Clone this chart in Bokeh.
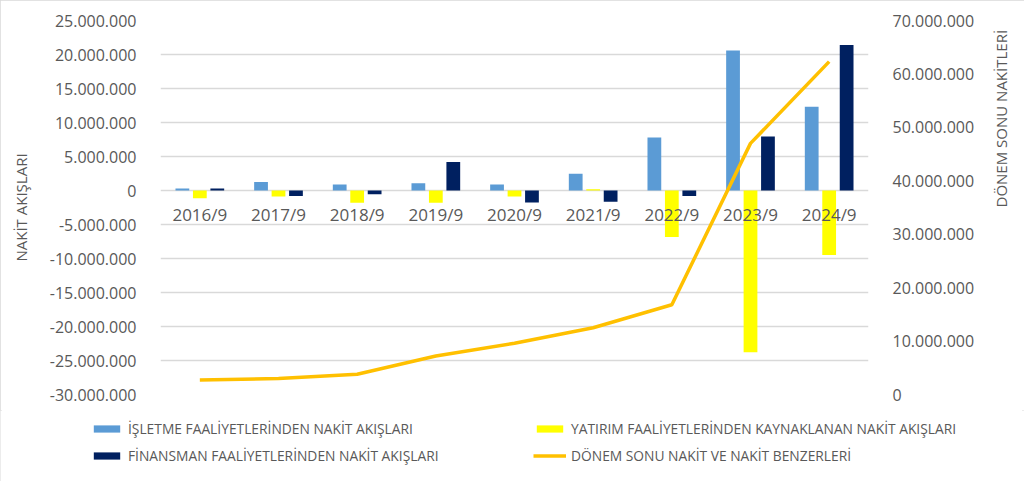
import math
from bokeh.plotting import figure
from bokeh.layouts import column
from bokeh.models import (Range1d, LinearAxis, FixedTicker, CustomJSTickFormatter,
                          ColumnDataSource, Legend, LegendItem)
from bokeh.transform import dodge
from bokeh.core.properties import value
from bokeh.embed import file_html
from bokeh.resources import INLINE

# data
periods = ["2016/9", "2017/9", "2018/9", "2019/9", "2020/9",
           "2021/9", "2022/9", "2023/9", "2024/9"]
isletme = [0.3e6, 1.25e6, 0.9e6, 1.05e6, 0.9e6, 2.45e6, 7.8e6, 20.6e6, 12.3e6]
yatirim = [-1.15e6, -0.9e6, -1.8e6, -1.8e6, -0.9e6, 0.2e6, -6.85e6, -23.8e6, -9.5e6]
finansman = [0.3e6, -0.8e6, -0.55e6, 4.2e6, -1.75e6, -1.65e6, -0.8e6, 7.95e6, 21.4e6]
donem_sonu = [2.7e6, 3.0e6, 3.8e6, 7.2e6, 9.6e6, 12.5e6, 16.8e6, 47.0e6, 62.3e6]

left_ticks = [-30e6, -25e6, -20e6, -15e6, -10e6, -5e6, 0, 5e6, 10e6, 15e6, 20e6, 25e6]
right_ticks = [0, 10e6, 20e6, 30e6, 40e6, 50e6, 60e6, 70e6]

series_names = ["İŞLETME FAALİYETLERİNDEN NAKİT AKIŞLARI",
                "YATIRIM FAALİYETLERİNDEN KAYNAKLANAN NAKİT AKIŞLARI",
                "FİNANSMAN FAALİYETLERİNDEN NAKİT AKIŞLARI",
                "DÖNEM SONU NAKİT VE NAKİT BENZERLERİ"]

src = ColumnDataSource(dict(period=periods, isletme=isletme, yatirim=yatirim,
                            finansman=finansman, donem=donem_sonu,
                            zero=[0] * len(periods)))

FONT = "Open Sans"
GRAY = "#595959"
C_BLUE, C_YEL, C_NAVY, C_LINE = "#5B9BD5", "#FFFF00", "#002060", "#FFC000"

p = figure(x_range=periods, y_range=Range1d(-30e6, 25e6), width=1024, height=410,
           output_backend="svg", toolbar_location=None, x_axis_location=None)
p.min_border_left = 160
p.min_border_right = 156
p.min_border_top = 20
p.min_border_bottom = 16
p.outline_line_color = None
p.background_fill_color = "white"
p.border_fill_color = "white"

p.extra_y_ranges = {"r": Range1d(0, 70e6)}

fmt = CustomJSTickFormatter(code="""
return Math.round(tick).toString().replace(/\\B(?=(\\d{3})+(?!\\d))/g, '.');
""")


def style_axis(a, title, standoff):
    a.axis_line_color = None
    a.major_tick_line_color = None
    a.minor_tick_line_color = None
    a.major_label_standoff = 18
    a.major_label_text_font = FONT
    a.major_label_text_font_size = "16px"
    a.major_label_text_color = GRAY
    a.axis_label = title
    a.axis_label_standoff = standoff
    a.axis_label_text_font = FONT
    a.axis_label_text_font_size = "15px"
    a.axis_label_text_font_style = "normal"
    a.axis_label_text_color = GRAY


ax = p.yaxis[0]
ax.ticker = FixedTicker(ticks=left_ticks)
ax.formatter = fmt
style_axis(ax, "NAKİT AKIŞLARI", 16)

rax = LinearAxis(y_range_name="r", ticker=FixedTicker(ticks=right_ticks), formatter=fmt)
style_axis(rax, "DÖNEM SONU NAKİTLERİ", 24)
rax.axis_label_orientation = math.pi / 2
p.add_layout(rax, "right")

p.xgrid.grid_line_color = None
p.ygrid.ticker = FixedTicker(ticks=left_ticks)
p.ygrid.grid_line_color = "#D9D9D9"
p.ygrid.grid_line_width = 1.3

w = 0.175
p.vbar(x=dodge("period", -0.222, range=p.x_range), top="isletme", bottom=0,
       width=w, source=src, fill_color=C_BLUE, line_color=None)
p.vbar(x=dodge("period", 0.0, range=p.x_range), top="yatirim", bottom=0,
       width=w, source=src, fill_color=C_YEL, line_color=None)
p.vbar(x=dodge("period", 0.222, range=p.x_range), top="finansman", bottom=0,
       width=w, source=src, fill_color=C_NAVY, line_color=None)
p.line(x="period", y="donem", y_range_name="r", source=src,
       line_color=C_LINE, line_width=3.5)

p.text(x="period", y="zero", text="period", source=src, y_offset=24,
       text_align="center", text_baseline="middle", text_font=value(FONT),
       text_font_size="17px", text_color=GRAY)

# legend strip below the chart (its glyphs sit outside the visible range)
lf = figure(width=1024, height=71, output_backend="svg", toolbar_location=None,
            x_axis_location=None, y_axis_location=None,
            x_range=Range1d(0, 1), y_range=Range1d(0, 1))
lf.min_border_left = 0
lf.min_border_right = 0
lf.min_border_top = 0
lf.min_border_bottom = 0
lf.outline_line_color = None
lf.grid.visible = False
lf.border_fill_color = "white"
off = ColumnDataSource(dict(x=[-10, -11], y=[-10, -11], top=[-10, -11]))
g1 = lf.vbar(x="x", top="top", width=0.1, source=off, fill_color=C_BLUE, line_color=None)
g2 = lf.vbar(x="x", top="top", width=0.1, source=off, fill_color=C_YEL, line_color=None)
g3 = lf.vbar(x="x", top="top", width=0.1, source=off, fill_color=C_NAVY, line_color=None)
g4 = lf.line(x="x", y="y", source=off, line_color=C_LINE, line_width=3.5)


def make_legend(items, x):
    lg = Legend(items=items, location=(x, 16), orientation="vertical")
    lg.padding = 0
    lg.margin = 0
    lg.spacing = 7
    lg.border_line_color = None
    lg.background_fill_alpha = 0
    lg.glyph_width = 33
    lg.glyph_height = 9
    lg.label_height = 20
    lg.label_standoff = 5
    lg.label_text_font = FONT
    lg.label_text_font_size = "13.8px"
    lg.label_text_color = GRAY
    return lg


lf.add_layout(make_legend([LegendItem(label=series_names[0], renderers=[g1]),
                           LegendItem(label=series_names[2], renderers=[g3])], 90), "center")
lf.add_layout(make_legend([LegendItem(label=series_names[1], renderers=[g2]),
                           LegendItem(label=series_names[3], renderers=[g4])], 533), "center")

page = column(p, column(lf, spacing=0), spacing=0)
page.styles = {"outline": "2px solid #D9D9D9", "outline-offset": "-2px"}
open("out.html", "w").write(file_html(page, INLINE))
